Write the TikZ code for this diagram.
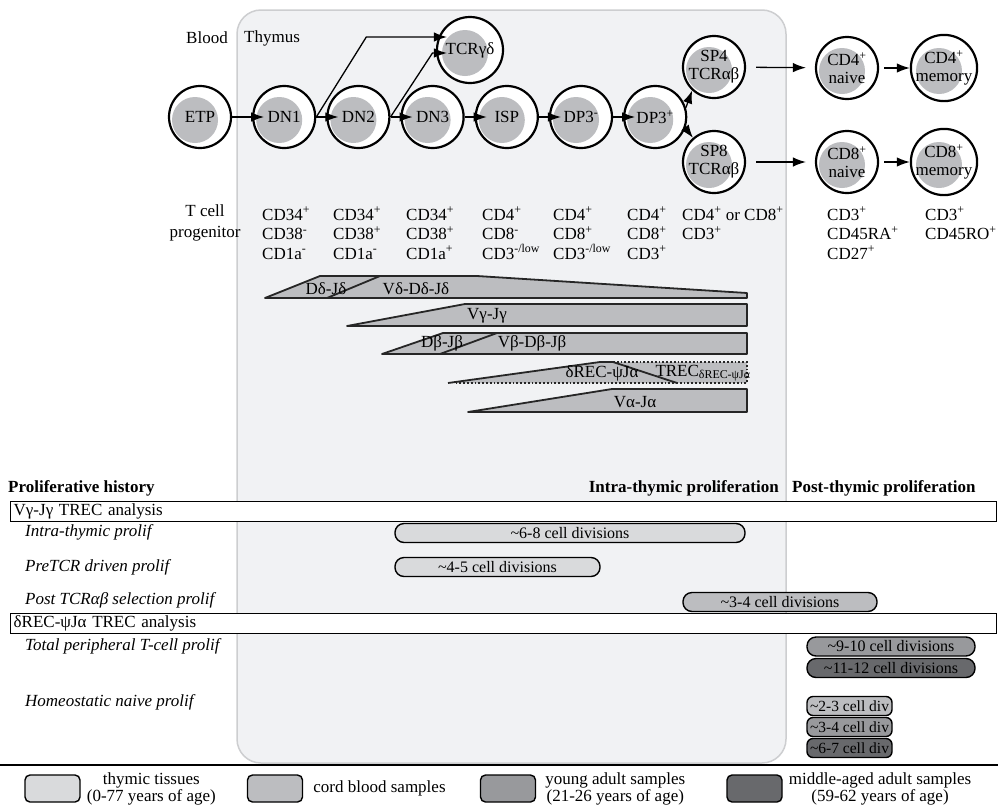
\documentclass[tikz,border=0pt]{standalone}
\usepackage{fontspec}
\setmainfont{Liberation Serif}
\usetikzlibrary{positioning,arrows.meta,calc}
\definecolor{thybg}{RGB}{241,242,244}
\definecolor{thyedge}{RGB}{205,206,208}
\definecolor{cellgray}{RGB}{188,189,192}
\definecolor{tisscol}{RGB}{217,218,220}
\definecolor{cordcol}{RGB}{188,189,192}
\definecolor{youngcol}{RGB}{152,153,156}
\definecolor{oldcol}{RGB}{104,105,108}
\tikzset{
  cell/.style={circle, draw, line width=2.2pt, fill=white, minimum size=62pt, inner sep=0pt, align=center,
    font=\fontsize{17}{18}\selectfont,
    path picture={\fill[cellgray] ($(path picture bounding box.center)+(-5pt,-3pt)$) circle (23pt);}},
  arrow/.style={-{Latex[length=13pt,width=9.5pt]}, line width=1.3pt},
  steparrow/.style={arrow, shorten >=-12pt},
  marker/.style={anchor=north west, inner sep=0pt, align=left, font=\fontsize{17}{19.5}\selectfont},
  seg/.style={fill=cellgray, draw=black!85, line width=1.8pt, line join=round},
  seglabel/.style={inner sep=0pt, font=\fontsize{17}{18}\selectfont},
  bar/.style={draw, line width=1.4pt, rounded corners=9pt, minimum height=19pt, inner sep=0pt, font=\fontsize{16}{17}\selectfont},
  smallbar/.style={bar, rounded corners=6pt, minimum width=85pt, font=\fontsize{15.5}{16}\selectfont},
  trecbox/.style={draw, line width=1.4pt, fill=white, anchor=north west, minimum height=20pt, text width=980pt,
    inner xsep=3pt, inner ysep=0pt, align=left, font=\fontsize{17}{18}\selectfont},
  rowlabel/.style={anchor=west, inner sep=0pt, font=\fontsize{17}{18}\selectfont\itshape},
  head/.style={inner sep=0pt, font=\fontsize{17}{18}\selectfont\bfseries},
  legbox/.style={draw, line width=1.4pt, rounded corners=5pt, minimum width=55pt, minimum height=27pt},
  legtext/.style={align=center, inner sep=0pt, font=\fontsize{17}{17}\selectfont}
}

\begin{document}
\begin{tikzpicture}[x=1pt, y=-1pt, node distance=10pt]
    \useasboundingbox (0,0) rectangle (998,809);
    \fill[white] (0,0) rectangle (998,809);
    % thymus region
    \draw[thyedge, fill=thybg, line width=1.5pt, rounded corners=24pt] (237,10) rectangle (786,763);
    \node[seglabel] (blood) at (207,38) {Blood};
    \node[seglabel] (thymus) at (272,38) {Thymus};

    % cells
    \node[cell] (etp) at (200,117) {ETP};
    \node[cell, right=20pt of etp] (dn1) {DN1};
    \node[cell, right=of dn1] (dn2) {DN2};
    \node[cell, right=of dn2] (dn3) {DN3};
    \node[cell, right=of dn3] (isp) {ISP};
    \node[cell, right=of isp] (dp3m) {DP3\textsuperscript{-}};
    \node[cell, right=of dp3m] (dp3p) {DP3\textsuperscript{+}};
    \node[cell, minimum size=66pt] (tcrgd) at (470,50) {TCRγδ};
    \node[cell] (sp4) at (714,67) {SP4\\TCRαβ};
    \node[cell] (sp8) at (714,162) {SP8\\TCRαβ};
    \node[cell] (cd4n) at (847,68) {CD4\textsuperscript{+}\\naive};
    \node[cell] (cd4m) at (944,68) {CD4\textsuperscript{+}\\memory};
    \node[cell] (cd8n) at (847,162) {CD8\textsuperscript{+}\\naive};
    \node[cell] (cd8m) at (944,162) {CD8\textsuperscript{+}\\memory};

    \draw[steparrow] (etp) -- (dn1);
    \draw[steparrow] (dn1) -- (dn2);
    \draw[steparrow] (dn2) -- (dn3);
    \draw[steparrow] (dn3) -- (isp);
    \draw[steparrow] (isp) -- (dp3m);
    \draw[steparrow] (dp3m) -- (dp3p);
    \draw[arrow] (dn1.east) -- ++(50,-80) -- ($(tcrgd.west)+(11,-13)$);
    \draw[arrow] (dn2.east) -- ++(42,-64) -- ($(tcrgd.west)+(11,3)$);
    \draw[arrow] (dp3p.17) -- (sp4.227);
    \draw[arrow] (dp3p.340) -- (sp8.131);
    \draw[arrow, shorten <=10pt, shorten >=9pt] (sp4) -- (cd4n);
    \draw[arrow, shorten <=5pt] (cd4n) -- (cd4m);
    \draw[arrow, shorten <=10pt, shorten >=9pt] (sp8) -- (cd8n);
    \draw[arrow, shorten <=5pt] (cd8n) -- (cd8m);

    % surface markers
    \node[marker, anchor=north, align=center, font=\fontsize{17}{21}\selectfont] (tprog) at (205,204) {T cell\\progenitor};
    \node[marker] (mk1) at (262,207) {CD34\textsuperscript{+}\\CD38\textsuperscript{-}\\CD1a\textsuperscript{-}};
    \node[marker] (mk2) at (333,207) {CD34\textsuperscript{+}\\CD38\textsuperscript{+}\\CD1a\textsuperscript{-}};
    \node[marker] (mk3) at (406,207) {CD34\textsuperscript{+}\\CD38\textsuperscript{+}\\CD1a\textsuperscript{+}};
    \node[marker] (mk4) at (482,207) {CD4\textsuperscript{+}\\CD8\textsuperscript{-}\\CD3\textsuperscript{-/low}};
    \node[marker] (mk5) at (553,207) {CD4\textsuperscript{+}\\CD8\textsuperscript{+}\\CD3\textsuperscript{-/low}};
    \node[marker] (mk6) at (627,207) {CD4\textsuperscript{+}\\CD8\textsuperscript{+}\\CD3\textsuperscript{+}};
    \node[marker] (mk7) at (682,207) {CD4\textsuperscript{+} or CD8\textsuperscript{+}\\CD3\textsuperscript{+}};
    \node[marker] (mk8) at (827,207) {CD3\textsuperscript{+}\\CD45RA\textsuperscript{+}\\CD27\textsuperscript{+}};
    \node[marker] (mk9) at (925,207) {CD3\textsuperscript{+}\\CD45RO\textsuperscript{+}};

    % rearrangements
    \draw[seg] (265,298) -- (320,276) -- (477,276) -- (747,293) -- (747,298) -- cycle;
    \draw[seg] (327,298) -- (380,276);
    \draw[seg] (347,326) -- (465,304) -- (747,304) -- (747,326) -- cycle;
    \draw[seg] (382,354) -- (443,333) -- (747,333) -- (747,354) -- cycle;
    \draw[seg] (440,354) -- (497,333);
    \fill[cellgray] (448,383) -- (600,362) -- (747,362) -- (747,383) -- cycle;
    \draw[line width=1.8pt, line join=round, black!85] (448,383) -- (600,362) -- (613,362) -- (677,383);
    \draw[dotted, line width=1.8pt, black!85] (613,362) -- (747,362) -- (747,383) -- (455,383);
    \draw[seg] (468,412) -- (612,389) -- (747,389) -- (747,412) -- cycle;
    \node[seglabel] (ddjd) at (326,289) {Dδ-Jδ};
    \node[seglabel] (vddjd) at (416,289) {Vδ-Dδ-Jδ};
    \node[seglabel] (vgjg) at (487,316) {Vγ-Jγ};
    \node[seglabel] (dbjb) at (442,343) {Dβ-Jβ};
    \node[seglabel] (vbdbjb) at (532,343) {Vβ-Dβ-Jβ};
    \node[seglabel] (drec) at (602,373) {δREC-ψJα};
    \node[seglabel] (trec) at (703,373) {TREC\textsubscript{δREC-ψJα}};
    \node[seglabel] (vaja) at (635,402) {Vα-Jα};

    % proliferative history
    \node[head, anchor=west] (hist) at (8,488) {Proliferative history};
    \node[head, anchor=east] (hintra) at (779,488) {Intra-thymic proliferation};
    \node[head, anchor=west] (hpost) at (792,488) {Post-thymic proliferation};
    \node[trecbox] (vgbox) at (10,501) {Vγ-Jγ TREC analysis};
    \node[trecbox] (drbox) at (10,613) {δREC-ψJα TREC analysis};
    \node[rowlabel] (lintra) at (25,532) {Intra-thymic prolif};
    \node[rowlabel] (lpre) at (25,567) {PreTCR driven prolif};
    \node[rowlabel] (lpost) at (25,600) {Post TCRαβ selection prolif};
    \node[rowlabel] (ltot) at (25,646) {Total peripheral T-cell prolif};
    \node[rowlabel] (lhom) at (25,702) {Homeostatic naive prolif};

    \node[bar, fill=tisscol, minimum width=350pt] (intra) at (570,533) {\textasciitilde6-8 cell divisions};
    \node[bar, fill=tisscol, minimum width=205pt] (pretcr) at (497.5,567) {\textasciitilde4-5 cell divisions};
    \node[bar, fill=cordcol, minimum width=194pt] (posttcr) at (780,602) {\textasciitilde3-4 cell divisions};
    \node[bar, fill=youngcol, minimum width=168pt] (totyoung) at (891,646.5) {\textasciitilde9-10 cell divisions};
    \node[bar, fill=oldcol, minimum width=168pt] (totold) at (891,668) {\textasciitilde11-12 cell divisions};
    \node[smallbar, fill=cordcol] (homcord) at (849.5,706) {\textasciitilde2-3 cell div};
    \node[smallbar, fill=youngcol] (homyoung) at (849.5,727) {\textasciitilde3-4 cell div};
    \node[smallbar, fill=oldcol] (homold) at (849.5,748) {\textasciitilde6-7 cell div};

    % legend
    \draw[line width=2pt] (0,765) -- (998,765);
    \node[legbox, fill=tisscol] (legtis) at (52.5,788.5) {};
    \node[legtext, right=6pt of legtis] (txtis) {thymic tissues\\(0-77 years of age)};
    \node[legbox, fill=cordcol] (legcord) at (275,788.5) {};
    \node[legtext, right=10pt of legcord] (txcord) {cord blood samples};
    \node[legbox, fill=youngcol] (legyoung) at (508,788.5) {};
    \node[legtext, right=9pt of legyoung] (txyoung) {young adult samples\\(21-26 years of age)};
    \node[legbox, fill=oldcol] (legold) at (754.5,788.5) {};
    \node[legtext, right=6pt of legold] (txold) {middle-aged adult samples\\(59-62 years of age)};
\end{tikzpicture}
\end{document}
